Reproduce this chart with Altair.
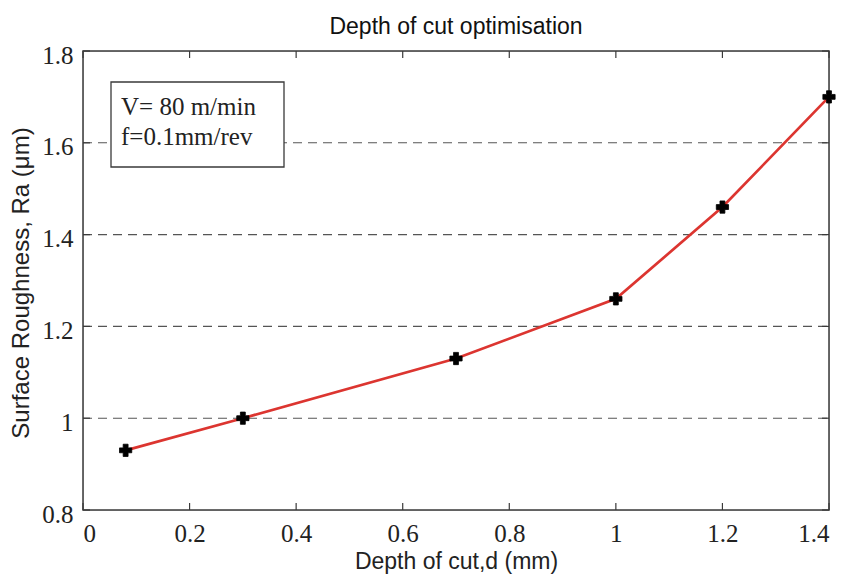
import altair as alt
import pandas as pd

# Data
depth = [0.08, 0.3, 0.7, 1.0, 1.2, 1.4]
roughness = [0.93, 1.0, 1.13, 1.26, 1.46, 1.70]
x_ticks = [0, 0.2, 0.4, 0.6, 0.8, 1.0, 1.2, 1.4]
y_ticks = [0.8, 1.0, 1.2, 1.4, 1.6, 1.8]
note_lines = ["V= 80 m/min", "f=0.1mm/rev"]

W, H = 746, 459
SERIF = "Liberation Serif, Times New Roman, serif"
SANS = "Liberation Sans, Arial, sans-serif"
FRAME = "#3a3a3a"
TICK_LEN = 7

df = pd.DataFrame({"x": depth, "y": roughness})
dfx = pd.DataFrame({"x": x_ticks})
dfy = pd.DataFrame({"y": y_ticks})
dfgrid = pd.DataFrame({"y": y_ticks[1:-1]})
one = pd.DataFrame({"k": [0]})

xscale = alt.Scale(domain=[0, 1.4], nice=False, zero=False)
yscale = alt.Scale(domain=[0.8, 1.8], nice=False, zero=False)

xaxis = alt.Axis(
    values=x_ticks, format="~g", grid=False, domain=False, ticks=False,
    labelFont=SERIF, labelFontSize=25, labelColor="#222", labelPadding=11,
    title="Depth of cut,d (mm)", titleFont=SANS, titleFontSize=23,
    titleFontWeight="normal", titleColor="#222",
    titleX=W / 2, titleY=40, titleBaseline="top", titleAlign="center",
)
yaxis = alt.Axis(
    values=y_ticks, format="~g", grid=False, domain=False, ticks=False,
    labelFont=SERIF, labelFontSize=25, labelColor="#222", labelPadding=10,
    labelOffset=4,
    title="Surface Roughness, Ra (\u03bcm)", titleFont=SANS, titleFontSize=24,
    titleFontWeight="normal", titleColor="#222",
    titleX=-62, titleY=H / 2 + 2, titleAngle=-90, titleAlign="center",
    titleBaseline="middle",
)

grid = alt.Chart(dfgrid).mark_rule(
    color="#555", strokeWidth=1.1, strokeDash=[9, 6]
).encode(
    y=alt.Y("y:Q", scale=yscale, axis=yaxis), x=alt.value(0), x2=alt.value(W)
)

line = alt.Chart(df).mark_line(color="#dc3530", strokeWidth=2.7).encode(
    x=alt.X("x:Q", scale=xscale, axis=xaxis),
    y=alt.Y("y:Q", scale=yscale),
)
points = alt.Chart(df).mark_point(
    shape="cross", filled=True, color="black", size=150, opacity=1,
    stroke="black", strokeWidth=0.8,
).encode(
    x=alt.X("x:Q", scale=xscale),
    y=alt.Y("y:Q", scale=yscale),
)

box = alt.Chart(one).mark_rect(
    fill="white", stroke=FRAME, strokeWidth=1.3
).encode(
    x=alt.value(28), x2=alt.value(201), y=alt.value(31), y2=alt.value(116)
)
note = alt.Chart(one).mark_text(
    font=SERIF, fontSize=25, color="#222", align="left", baseline="alphabetic",
    lineHeight=30,
).encode(
    x=alt.value(38), y=alt.value(64), text=alt.value(note_lines)
)

frame = alt.Chart(one).mark_rect(
    fillOpacity=0, stroke=FRAME, strokeWidth=1.5
).encode(
    x=alt.value(0), x2=alt.value(W), y=alt.value(0), y2=alt.value(H)
)

tick_style = dict(color=FRAME, strokeWidth=1.2)
bottom_ticks = alt.Chart(dfx).mark_rule(**tick_style).encode(
    x=alt.X("x:Q", scale=xscale), y=alt.value(H), y2=alt.value(H - TICK_LEN)
)
top_ticks = alt.Chart(dfx).mark_rule(**tick_style).encode(
    x=alt.X("x:Q", scale=xscale), y=alt.value(0), y2=alt.value(TICK_LEN)
)
left_ticks = alt.Chart(dfy).mark_rule(**tick_style).encode(
    y=alt.Y("y:Q", scale=yscale), x=alt.value(0), x2=alt.value(TICK_LEN)
)
right_ticks = alt.Chart(dfy).mark_rule(**tick_style).encode(
    y=alt.Y("y:Q", scale=yscale), x=alt.value(W - TICK_LEN), x2=alt.value(W)
)

chart = alt.layer(
    grid, line, box, note, bottom_ticks, top_ticks, left_ticks, right_ticks,
    frame, points
).properties(
    width=W, height=H,
    title=alt.TitleParams(
        "Depth of cut optimisation", font=SANS, fontSize=23,
        fontWeight="normal", color="#111", anchor="middle", offset=4,
    ),
    autosize=alt.AutoSizeParams(type="none"),
    padding={"left": 83, "top": 51, "right": 16, "bottom": 64},
).configure_view(
    stroke=None
).configure(background="white")

chart.save("out.html", embed_options={"renderer": "svg", "actions": False})
